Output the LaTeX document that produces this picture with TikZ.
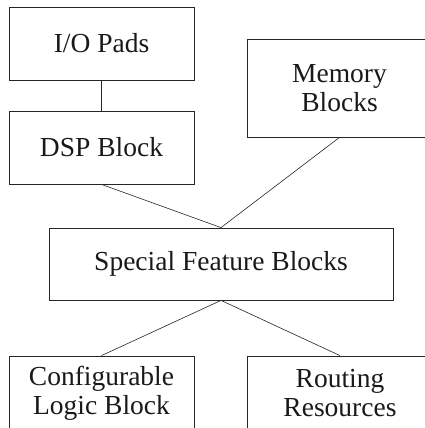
\documentclass[tikz,border=0pt]{standalone}
\usepackage{fontspec}
\setmainfont{Liberation Serif}
\begin{document}
\begin{tikzpicture}[x=1pt,y=1pt,
  blk/.style={draw=black!85, line width=0.8pt, inner sep=0pt, align=center,
    font=\fontsize{27.5}{29}\selectfont, text=black!90},
  conn/.style={draw=black!85, line width=0.6pt}]
\useasboundingbox (0,0) rectangle (425,428);
\begin{scope}
\clip (0,0) rectangle (425,428);
\node[blk, minimum width=185, minimum height=73] (io) at (101.5,384.5) {I/O Pads};
\node[blk, minimum width=185, minimum height=73] (dsp) at (101.5,280.5) {DSP Block};
\node[blk, minimum width=185, minimum height=98] (mem) at (339.5,340) {Memory\\Blocks};
\node[blk, minimum width=344, minimum height=72] (sfb) at (221,164) {Special Feature Blocks};
\node[blk, minimum width=185, minimum height=74] (clb) at (101.5,35) {Configurable\\Logic Block};
\node[blk, minimum width=186, minimum height=74] (rr) at (340,35) {Routing\\Resources};
\draw[conn] (io.south) -- (dsp.north);
\draw[conn] (dsp.south) -- (sfb.north);
\draw[conn] (mem.south) -- (sfb.north);
\draw[conn] (sfb.south) -- (clb.north);
\draw[conn] (sfb.south) -- (rr.north);
\end{scope}
\end{tikzpicture}
\end{document}
